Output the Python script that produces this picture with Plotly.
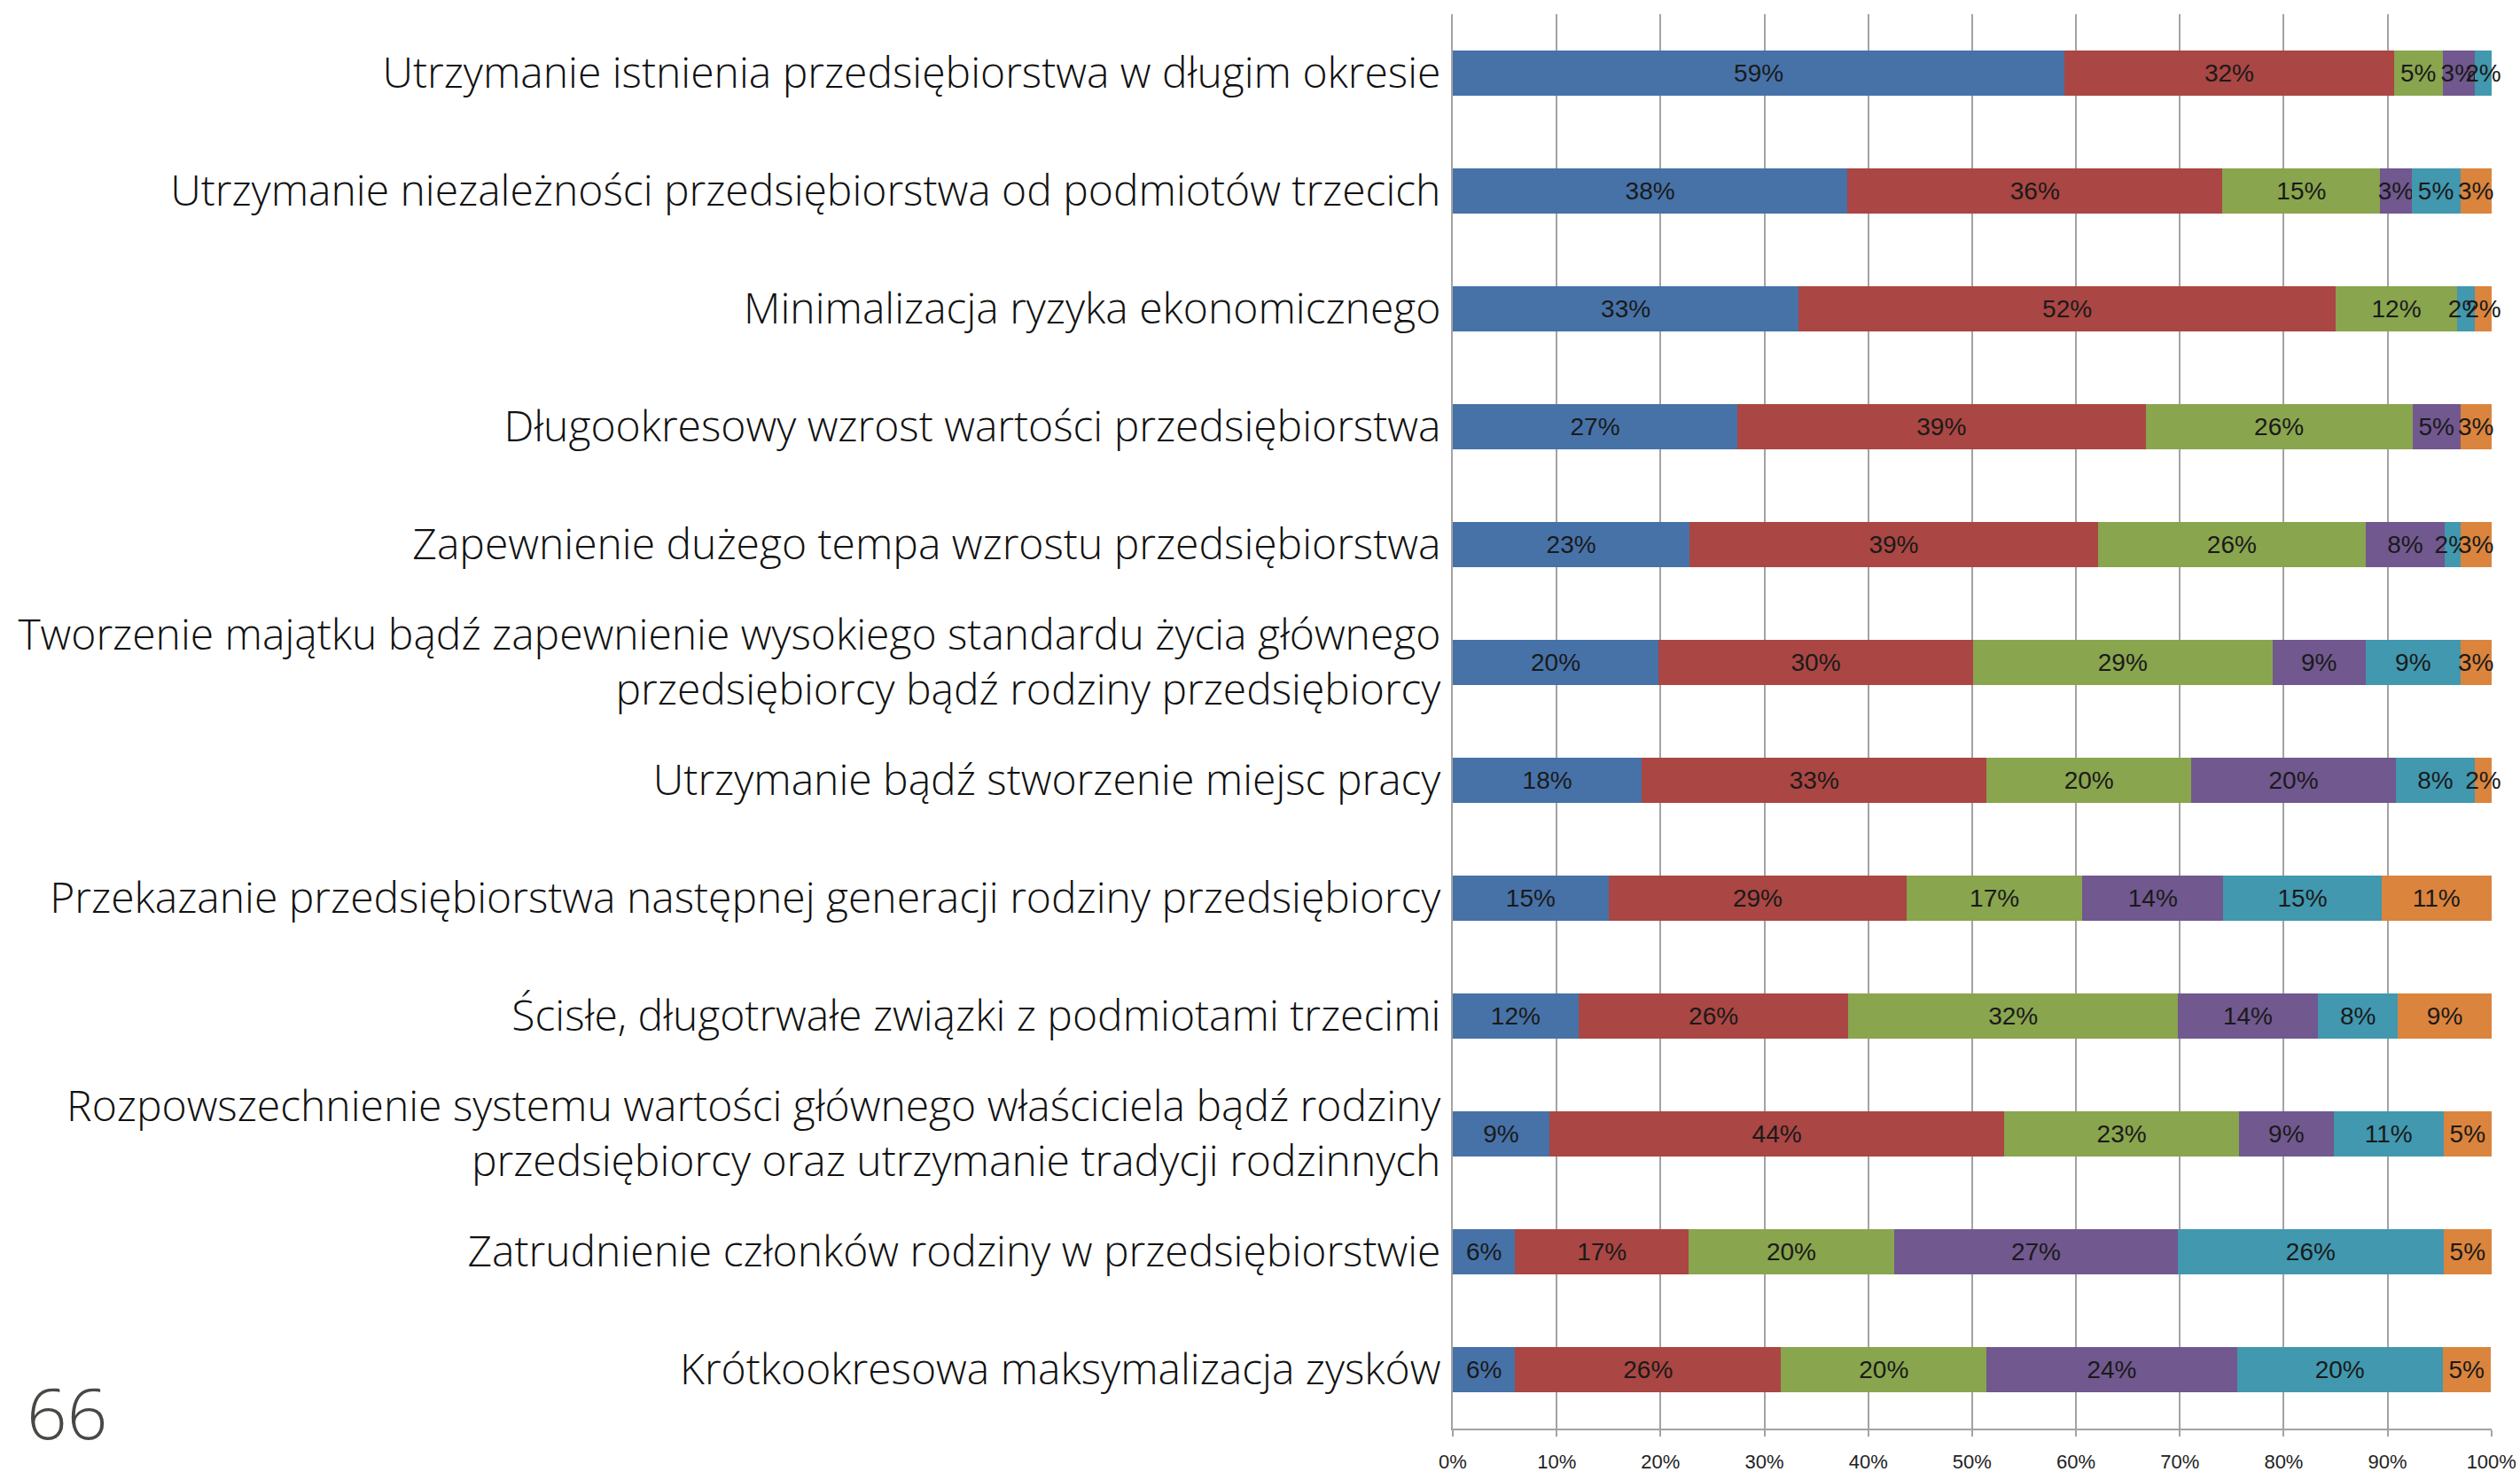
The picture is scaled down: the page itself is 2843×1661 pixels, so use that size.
import plotly.graph_objects as go

categories = [
    "Utrzymanie istnienia przedsiębiorstwa w długim okresie",
    "Utrzymanie niezależności przedsiębiorstwa od podmiotów trzecich",
    "Minimalizacja ryzyka ekonomicznego",
    "Długookresowy wzrost wartości przedsiębiorstwa",
    "Zapewnienie dużego tempa wzrostu przedsiębiorstwa",
    "Tworzenie majątku bądź zapewnienie wysokiego standardu życia głównego<br>przedsiębiorcy bądź rodziny przedsiębiorcy",
    "Utrzymanie bądź stworzenie miejsc pracy",
    "Przekazanie przedsiębiorstwa następnej generacji rodziny przedsiębiorcy",
    "Ścisłe, długotrwałe związki z podmiotami trzecimi",
    "Rozpowszechnienie systemu wartości głównego właściciela bądź rodziny<br>przedsiębiorcy oraz utrzymanie tradycji rodzinnych",
    "Zatrudnienie członków rodziny w przedsiębiorstwie",
    "Krótkookresowa maksymalizacja zysków",
]

s1 = [58.9, 38.0, 33.3, 27.4, 22.8, 19.8, 18.2, 15.0, 12.1, 9.3, 6.0, 6.0]
s2 = [31.7, 36.1, 51.7, 39.3, 39.3, 30.3, 33.2, 28.7, 26.0, 43.8, 16.7, 25.6]
s3 = [4.7, 15.2, 11.7, 25.7, 25.8, 28.8, 19.7, 16.9, 31.7, 22.6, 19.8, 19.8]
s4 = [3.1, 3.0, 0.0, 4.6, 7.6, 9.0, 19.7, 13.6, 13.5, 9.1, 27.3, 24.1]
s5 = [1.6, 4.7, 1.7, 0.0, 1.5, 9.1, 7.6, 15.2, 7.7, 10.6, 25.6, 19.8]
s6 = [0.0, 3.0, 1.6, 3.0, 3.0, 3.0, 1.6, 10.6, 9.0, 4.6, 4.6, 4.6]

series = [s1, s2, s3, s4, s5, s6]
colors = ["#4672A8", "#AA4643", "#89A54E", "#71588F", "#4198AF", "#DB843D"]

x_ticks = [0, 10, 20, 30, 40, 50, 60, 70, 80, 90, 100]
x_tick_labels = [f"{t}%" for t in x_ticks]

fig = go.Figure()
for vals, col in zip(series, colors):
    fig.add_trace(go.Bar(
        y=categories, x=vals, orientation="h",
        marker=dict(color=col, line=dict(width=0)),
        text=[f"{v:.0f}%" if v > 0 else "" for v in vals],
        textposition="inside", insidetextanchor="middle",
        constraintext="none", textangle=0, cliponaxis=False,
        textfont=dict(family="Liberation Sans", size=28, color="#1a1a1a"),
        hoverinfo="skip", showlegend=False,
    ))

fig.update_layout(
    barmode="stack", bargap=0.61,
    width=2843, height=1661,
    margin=dict(l=1639, r=32, t=16, b=49, autoexpand=False),
    paper_bgcolor="white", plot_bgcolor="white",
    showlegend=False,
    annotations=[dict(
        text="66", xref="paper", yref="paper", x=-1.375, y=0.0125,
        xanchor="left", yanchor="middle", showarrow=False,
        font=dict(family="Open Sans", size=80, color="#4a4845", weight=300),
    )],
)
fig.update_xaxes(
    range=[0, 100.02], tickvals=x_ticks, ticktext=x_tick_labels,
    showgrid=True, gridcolor="#A3A3A3", gridwidth=2,
    showline=True, linecolor="#A3A3A3", linewidth=2,
    ticks="outside", ticklen=7, tickcolor="#A3A3A3", tickwidth=2,
    ticklabelstandoff=10, automargin=False, ticklabeloverflow="allow",
    tickfont=dict(family="Liberation Sans", size=22, color="#222222"),
    zeroline=False, fixedrange=True,
)
fig.update_yaxes(
    autorange="reversed", automargin=False,
    showline=True, linecolor="#A3A3A3", linewidth=2,
    showgrid=False, ticks="", ticklabelstandoff=2,
    tickfont=dict(family="Open Sans", size=48, color="#111111", weight=300),
    fixedrange=True,
)

fig.write_html(
    "out.html",
    config={"displayModeBar": False},
    post_script="document.body.style.margin='0px';document.body.style.overflow='hidden';",
)
